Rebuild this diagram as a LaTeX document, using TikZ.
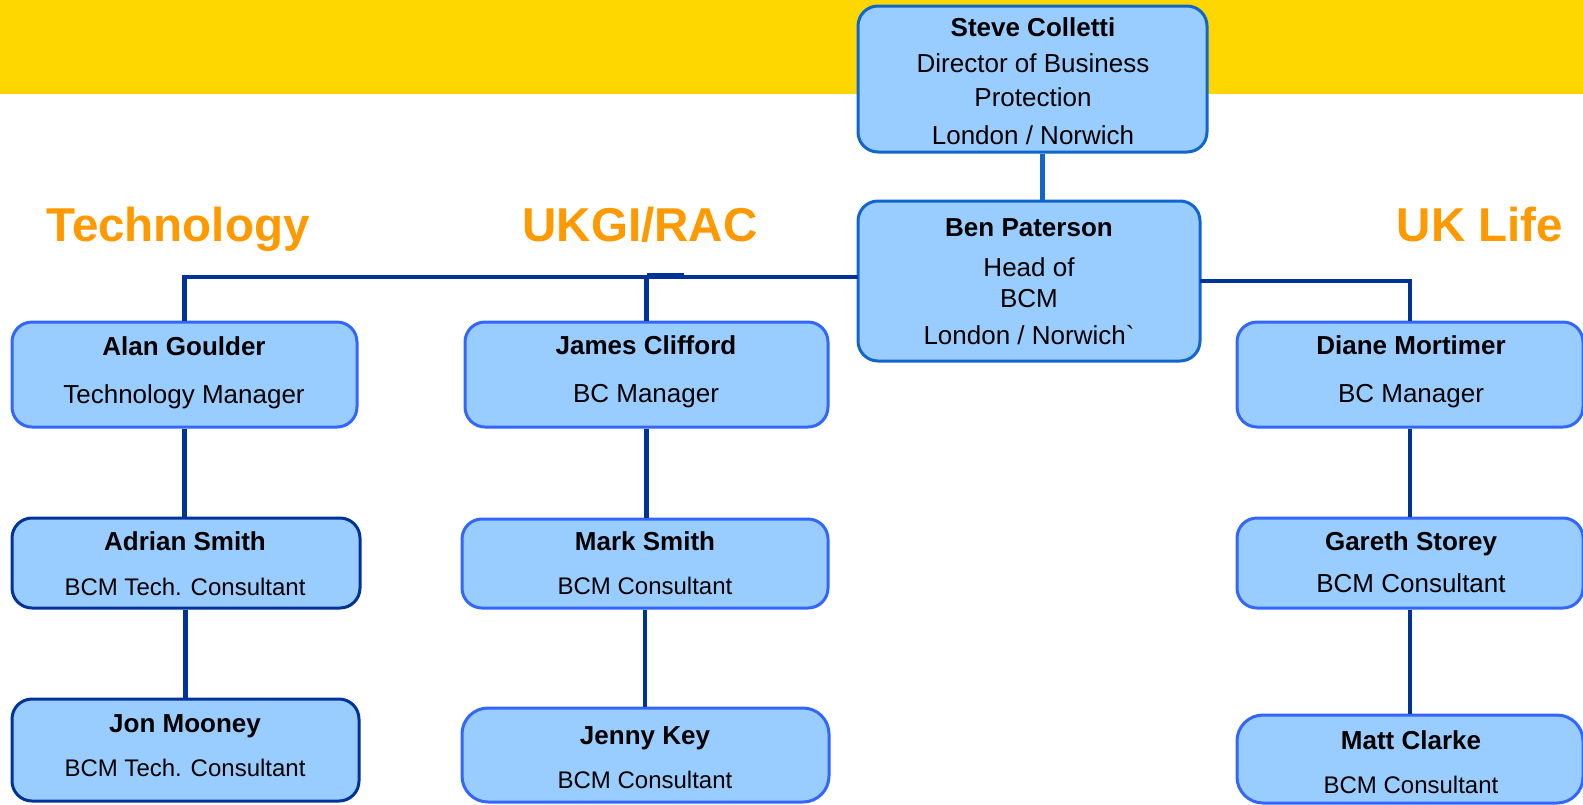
\documentclass[tikz,border=0pt]{standalone}
\usepackage{fontspec}
\setmainfont{Liberation Sans}
\definecolor{band}{HTML}{FFD700}
\definecolor{boxfill}{HTML}{99CCFF}
\definecolor{brightb}{HTML}{3366FF}
\definecolor{midb}{HTML}{1166CC}
\definecolor{navy}{HTML}{003399}
\definecolor{orangeh}{HTML}{FF9900}
\begin{document}
\begin{tikzpicture}[x=0.5pt,y=-0.5pt,
  box/.style={draw=brightb, line width=1.5pt, fill=boxfill, rounded corners=10pt, inner sep=0pt},
  darkbox/.style={box, draw=navy},
  topbox/.style={box, draw=midb},
  conn/.style={draw=navy, line width=2.3pt},
  topconn/.style={draw=midb, line width=2.5pt},
  nm/.style={font=\bfseries\fontsize{13}{15}\selectfont, anchor=base, inner sep=0pt},
  tx/.style={font=\fontsize{13}{15}\selectfont, anchor=base, inner sep=0pt},
  txs/.style={font=\fontsize{12}{14}\selectfont, anchor=base, inner sep=0pt},
  head/.style={font=\bfseries\fontsize{23.75}{28}\selectfont, text=orangeh, anchor=base, inner sep=0pt}]
\useasboundingbox (0,0) rectangle (1583,804);
\fill[white] (0,0) rectangle (1583,804);
\fill[band] (0,0) rectangle (1583,94);

% headings
\node[head] (hTech) at (178,241) {Technology};
\node[head] (hUKGI) at (640,241) {UKGI/RAC};
\node[head] (hLife) at (1480,241) {UK Life};

% boxes
\node[topbox, minimum width=174.5pt, minimum height=73pt] (steve) at (1032.5,79) {};
\node[topbox, minimum width=171pt, minimum height=80pt] (ben) at (1029,281) {};
\node[box, minimum width=172.5pt, minimum height=52.5pt] (alan) at (184.5,374.5) {};
\node[darkbox, minimum width=174pt, minimum height=45pt] (adrian) at (186,563) {};
\node[darkbox, minimum width=173.5pt, minimum height=51pt] (jon) at (185.5,750) {};
\node[box, minimum width=181.5pt, minimum height=52.5pt] (james) at (646.5,374.5) {};
\node[box, minimum width=183pt, minimum height=44.5pt] (mark) at (645,563.5) {};
\node[box, rounded corners=13pt, minimum width=183.5pt, minimum height=47pt] (jenny) at (645.5,755) {};
\node[box, minimum width=173pt, minimum height=52.5pt] (diane) at (1410,374.5) {};
\node[box, minimum width=173pt, minimum height=45pt] (gareth) at (1410,563) {};
\node[box, rounded corners=13pt, minimum width=173pt, minimum height=44pt] (matt) at (1410,759) {};

% connectors
\coordinate (hl) at (858,277);
\coordinate (hr) at (1200,281);
\draw[topconn] ([xshift=4.75pt]steve.south) -- ([xshift=4.75pt]steve.south |- ben.north);
\draw[conn] (alan.north) |- (hl);
\draw[conn] (james.north) -- (james.north |- hl);
\draw[draw=navy, line width=3pt] ([yshift=0.6pt]james.north |- hl) -- ++(37,0);
\draw[conn] (hr) -| (diane.north);
\draw[conn] (alan.south) -- (alan.south |- adrian.north);
\draw[conn] (adrian.south -| jon.north) -- (jon.north);
\draw[conn] (james.south) -- (james.south |- mark.north);
\draw[conn] (mark.south) -- (mark.south |- jenny.north);
\draw[conn] (diane.south) -- (diane.south |- gareth.north);
\draw[conn] (gareth.south) -- (gareth.south |- matt.north);

% texts
\node[nm] (t1) at (1033,36) {Steve Colletti};
\node[tx] (t2) at (1033,72) {Director of Business};
\node[tx] (t3) at (1033,106) {Protection};
\node[tx] (t4) at (1033,144) {London / Norwich};

\node[nm] (t5) at (1029,236) {Ben Paterson};
\node[tx] (t6) at (1029,276) {Head of};
\node[tx] (t7) at (1029,307) {BCM};
\node[tx] (t8) at (1029,344) {London / Norwich\textasciigrave};

\node[nm] (t9) at (184,355) {Alan Goulder};
\node[tx] (t10) at (184,403) {Technology Manager};
\node[nm] (t11) at (646,354) {James Clifford};
\node[tx] (t12) at (646,402) {BC Manager};
\node[nm] (t13) at (1411,354) {Diane Mortimer};
\node[tx] (t14) at (1411,402) {BC Manager};

\node[nm] (t15) at (185,550) {Adrian Smith};
\node[txs] (t16) at (185,595.5) {BCM Tech. Consultant};
\node[nm] (t17) at (645,550) {Mark Smith};
\node[txs] (t18) at (645,594.5) {BCM Consultant};
\node[nm] (t19) at (1411,550) {Gareth Storey};
\node[tx] (t20) at (1411,592) {BCM Consultant};

\node[nm] (t21) at (185,732) {Jon Mooney};
\node[txs] (t22) at (185,776.5) {BCM Tech. Consultant};
\node[nm] (t23) at (645,744) {Jenny Key};
\node[txs] (t24) at (645,788.5) {BCM Consultant};
\node[nm] (t25) at (1411,749) {Matt Clarke};
\node[txs] (t26) at (1411,793.5) {BCM Consultant};
\end{tikzpicture}
\end{document}
